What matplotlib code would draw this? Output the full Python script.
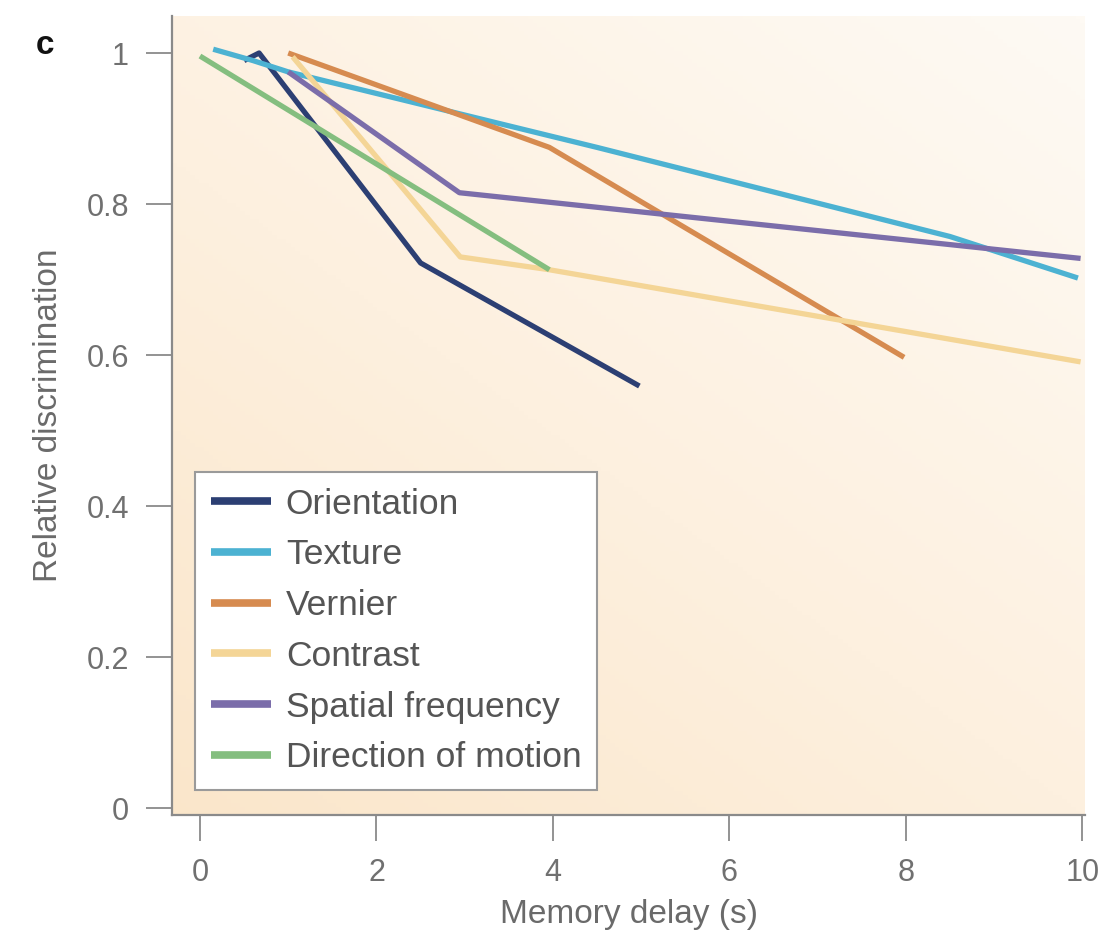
import numpy as np
import matplotlib
matplotlib.use("Agg")
import matplotlib.pyplot as plt
from matplotlib.colors import LinearSegmentedColormap

plt.rcParams['font.family'] = ['Liberation Sans', 'DejaVu Sans']

# Data
names = ['Orientation', 'Texture', 'Vernier', 'Contrast',
         'Spatial frequency', 'Direction of motion']
colors = ['#2c3f73', '#4cb2d2', '#d68b50', '#f4d596', '#7b6daa', '#84be7f']

orient_x = [0.5, 0.67, 2.5, 4.98]
orient_y = [0.99, 1.0, 0.722, 0.559]
texture_x = [0.15, 0.6, 1.0, 4.5, 8.5, 9.95]
texture_y = [1.005, 0.99, 0.975, 0.875, 0.757, 0.702]
vernier_x = [1.0, 3.96, 7.98]
vernier_y = [1.0, 0.875, 0.597]
contrast_x = [1.05, 2.95, 3.96, 9.98]
contrast_y = [0.995, 0.73, 0.713, 0.591]
spatial_x = [1.0, 2.94, 9.98]
spatial_y = [0.975, 0.815, 0.728]
motion_x = [0.0, 3.96]
motion_y = [0.996, 0.713]

series = [(orient_x, orient_y), (texture_x, texture_y), (vernier_x, vernier_y),
          (contrast_x, contrast_y), (spatial_x, spatial_y), (motion_x, motion_y)]

xticks = [0, 2, 4, 6, 8, 10]
yticks = [0, 0.2, 0.4, 0.6, 0.8, 1]
yticklabels = ['0', '0.2', '0.4', '0.6', '0.8', '1']

fig = plt.figure(figsize=(11.07, 9.38), dpi=100)
ax = fig.add_axes([172 / 1107, 1 - 815 / 938, (1085 - 172) / 1107, (815 - 16) / 938])
ax.set_xlim(-0.317, 10.03)
ax.set_ylim(-0.009, 1.049)

# warm gradient background, peach at the bottom-left, nearly white top-right
cmap = LinearSegmentedColormap.from_list('bg', ['#fae4c6', '#fdf0df', '#fefaf4'])
gx, gy = np.meshgrid(np.linspace(0, 1, 200), np.linspace(0, 1, 200))
ax.imshow(gx * 0.45 + gy * 0.55, cmap=cmap, extent=[0, 1, 0, 1], origin='lower',
          transform=ax.transAxes, aspect='auto', zorder=0, vmin=-0.1, vmax=1.0)

for (xs, ys), name, c in zip(series, names, colors):
    ax.plot(xs, ys, color=c, lw=3.8, label=name, solid_capstyle='butt', zorder=3)

for s in ['top', 'right']:
    ax.spines[s].set_visible(False)
for s in ['left', 'bottom']:
    ax.spines[s].set_color('#8a8a8a')
    ax.spines[s].set_linewidth(1.6)

ax.set_xticks(xticks)
ax.set_yticks(yticks)
ax.set_yticklabels(yticklabels)
ax.tick_params(axis='both', colors='#8a8a8a', labelcolor='#707070', labelsize=22,
               length=19, width=1.3)
ax.tick_params(axis='x', pad=12)
ax.tick_params(axis='y', pad=12)

ax.set_xlabel('Memory delay (s)', fontsize=24, color='#6a6a6a', labelpad=8)
ax.set_ylabel('Relative discrimination', fontsize=24, color='#6a6a6a', labelpad=16)

fig.text(45 / 1107, 1 - 45 / 938, 'c', fontsize=24, fontweight='bold',
         ha='center', va='center', color='#111111')

leg = ax.legend(loc='lower left', bbox_to_anchor=(0.025, 0.031), borderaxespad=0,
                fontsize=25.5, frameon=True, fancybox=False, handlelength=1.7,
                handletextpad=0.42, labelspacing=0.5, borderpad=0.45)
leg.get_frame().set_facecolor('white')
leg.get_frame().set_edgecolor('#9a9a9a')
leg.get_frame().set_linewidth(1.5)
leg.get_frame().set_alpha(1)
for t in leg.get_texts():
    t.set_color('#555555')
for h in leg.get_lines():
    h.set_linewidth(5.5)

fig.savefig('out.png', dpi=100)
